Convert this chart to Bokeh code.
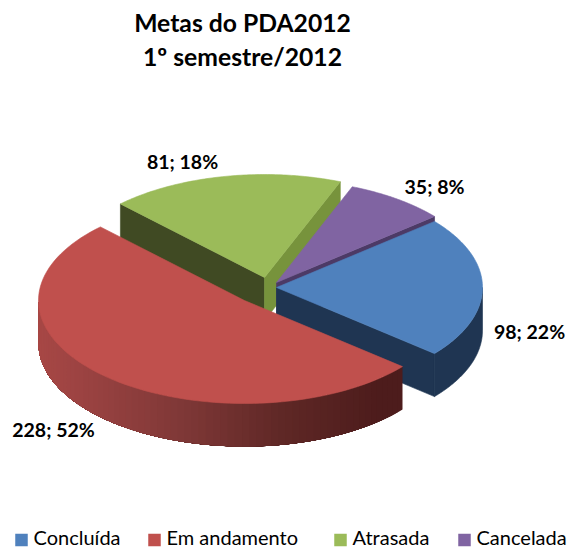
import numpy as np
from bokeh.plotting import figure
from bokeh.models import Range1d
from bokeh.core.properties import value
from bokeh.embed import file_html
from bokeh.resources import INLINE

categories = ["Concluída", "Em andamento", "Atrasada", "Cancelada"]
values = [98, 228, 81, 35]
title_lines = ["Metas do PDA2012", "1º semestre/2012"]

top_colors = ["#4f81bd", "#c0504d", "#9bbb59", "#8064a2"]
cut_colors = ["#1f3552", "#4f1d1c", "#404a23", "#4c3a66"]
green_face = "#77933c"
apex = [(276, 287), (244, 300), (264, 277), (276, 282)]
RX, RY, DEPTH = 206, 103, 43
START = 39.9
label_pos = [(529, 331), (53, 429), (182, 161), (434, 186)]
legend_sq = [15, 148, 334, 458]
legend_sq_y = 539.5
legend_text_y = 536.5
W, H = 569, 549
FONT = "Lato"

total = sum(values)
angles = []
a = START
for v in values:
    b = a - v / total * 360
    angles.append((a, b))
    a = b

p = figure(width=W, height=H, output_backend="svg", toolbar_location=None,
           x_range=Range1d(0, W), y_range=Range1d(H, 0),
           min_border=0, outline_line_color=None, background_fill_color="white",
           border_fill_color="white")
p.axis.visible = False
p.grid.visible = False


def pt(c, deg, dy=0):
    r = np.radians(deg)
    return c[0] + RX * np.cos(r), c[1] - RY * np.sin(r) + dy


def arc(c, a0, a1, dy=0, n=90):
    t = np.radians(np.linspace(a0, a1, n))
    return c[0] + RX * np.cos(t), c[1] - RY * np.sin(t) + dy


def poly(xs, ys, color):
    p.patch(list(xs), list(ys), fill_color=color, line_color=color, line_width=0.6)


def cut_face(c, deg, color):
    x, y = pt(c, deg)
    poly([c[0], x, x, c[0]], [c[1], y, y + DEPTH, c[1] + DEPTH], color)


def top(i):
    c = apex[i]
    x, y = arc(c, *angles[i])
    poly(np.r_[c[0], x], np.r_[c[1], y], top_colors[i])


def lerp_red(x):
    stops_x = [38, 87, 187, 287, 383]
    stops = np.array([[0xa8, 0x48, 0x46], [0x9b, 0x43, 0x42], [0x7f, 0x38, 0x37],
                      [0x5f, 0x28, 0x26], [0x4d, 0x1c, 0x1c]])
    rgb = [int(np.interp(x, stops_x, stops[:, k])) for k in range(3)]
    return "#%02x%02x%02x" % tuple(rgb)


# green slice
cut_face(apex[2], angles[2][0], cut_colors[2])
cut_face(apex[2], angles[2][1], green_face)
top(2)
# purple slice
cut_face(apex[3], angles[3][1], cut_colors[3])
top(3)
# blue slice
cut_face(apex[0], angles[0][1], cut_colors[0])
x0, y0 = arc(apex[0], 0, angles[0][1])
poly(np.r_[x0, x0[::-1]], np.r_[y0, y0[::-1] + DEPTH], cut_colors[0])
top(0)
# red slice with a shaded rim: each band runs on to the rim's far end, later bands overpaint
edges = np.linspace(angles[1][0], -180, 70)
for e0 in edges[:-1]:
    x, y = arc(apex[1], e0, -180)
    p.patch(list(np.r_[x, x[::-1]]), list(np.r_[y, y[::-1] + DEPTH]),
            fill_color=lerp_red(x[0]), line_color=None)
top(1)

# title
for line, yy in zip(title_lines, [22, 56]):
    p.text([242], [yy], text=[line], text_font=value(FONT), text_font_style="bold",
           text_font_size="24.7px", text_align="center", text_baseline="middle",
           text_color="#000000")

# data labels
for v, (lx, ly) in zip(values, label_pos):
    p.text([lx], [ly], text=[f"{v}; {round(v / total * 100)}%"], text_font=value(FONT),
           text_font_style="bold", text_font_size="19.5px", text_align="center",
           text_baseline="middle", text_color="#000000")

# legend
for name, sx, col in zip(categories, legend_sq, top_colors):
    p.rect([sx + 6], [legend_sq_y], width=12.5, height=12.5, fill_color=col, line_color=None)
    p.text([sx + 18], [legend_text_y], text=[name], text_font=value(FONT),
           text_font_size="20px", text_align="left", text_baseline="middle",
           text_color="#000000")

open("out.html", "w").write(file_html(p, INLINE))
